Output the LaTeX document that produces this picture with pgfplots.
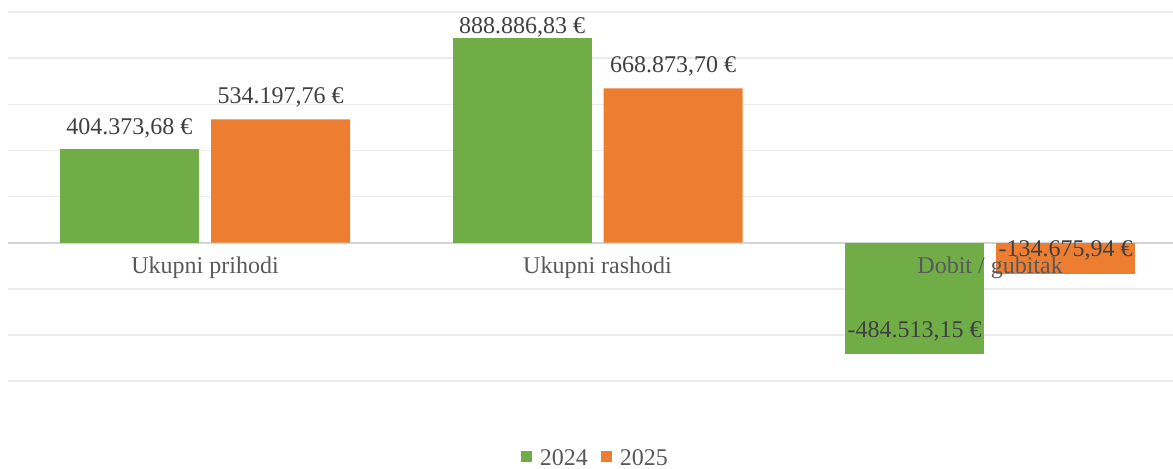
\documentclass[border=0pt]{standalone}
\usepackage{fontspec}
\setmainfont{Liberation Serif}
\usepackage{pgfplots}
\pgfplotsset{compat=1.18}
\definecolor{g24}{HTML}{70AD47}
\definecolor{o25}{HTML}{ED7D31}
\definecolor{lbl}{HTML}{404040}
\definecolor{cat}{HTML}{595959}
\definecolor{gridc}{HTML}{EBEBEB}
\definecolor{zeroc}{HTML}{D4D4D4}
\begin{document}
\begin{tikzpicture}[font=\fontsize{12}{14}\selectfont]
\begin{axis}[
  scale only axis, width=582.25pt, height=184.5pt,
  xmin=-0.5006, xmax=2.466, ymin=-600000, ymax=1000000,
  axis line style={draw=none},
  scaled y ticks=false,
  ytick={-600000,-400000,-200000,200000,400000,600000,800000,1000000},
  yticklabels={},
  ymajorgrids, major grid style={gridc, line width=0.75pt},
  extra y ticks={0}, extra y tick labels={},
  extra y tick style={ymajorgrids=true, major grid style={zeroc, line width=0.9pt}},
  major tick length=0pt, tick align=inside,
  xtick={0,1,2}, xticklabels={},
  point meta=explicit symbolic,
  legend style={draw=none, fill=none, at={(0.503,-0.2395)}, anchor=south,
    inner sep=0pt, nodes={inner sep=0pt, text=cat},
    /tikz/every odd column/.style={column sep=4pt},
    /tikz/every even column/.style={column sep=6.5pt}},
  legend columns=-1,
  legend image code/.code={\fill[#1, draw=none] (0pt,-1.3pt) rectangle (5.5pt,4.2pt);},
]
\coordinate (ll) at (rel axis cs:0,0);
\coordinate (ur) at (rel axis cs:1,1);
% 2024 positive
\addplot[ybar, bar width=0.354, bar shift=0pt, fill=g24, draw=none,
  nodes near coords,
  every node near coord/.style={text=lbl, anchor=base, inner sep=0pt, yshift=7.4pt}]
  coordinates {(-0.1924,404373.68) [404.373,68~€]};
\addlegendentry{2024}
% 2025 positive
\addplot[ybar, bar width=0.354, bar shift=0pt, fill=o25, draw=none,
  nodes near coords,
  every node near coord/.style={text=lbl, anchor=base, inner sep=0pt, yshift=8pt}]
  coordinates {(0.1924,534197.76) [534.197,76~€] (1.1924,668873.70) [668.873,70~€]};
\addlegendentry{2025}
\addplot[ybar, bar width=0.354, bar shift=0pt, fill=g24, draw=none, forget plot,
  nodes near coords,
  every node near coord/.style={text=lbl, anchor=base, inner sep=0pt, yshift=2.3pt}]
  coordinates {(0.8076,888886.83) [888.886,83~€]};
% 2024 negative
\addplot[ybar, bar width=0.354, bar shift=0pt, fill=g24, draw=none, forget plot,
  nodes near coords,
  every node near coord/.style={text=lbl, anchor=base, inner sep=0pt, yshift=8.5pt}]
  coordinates {(1.8076,-484513.15) [-484.513,15~€]};
% 2025 negative
\addplot[ybar, bar width=0.354, bar shift=0pt, fill=o25, draw=none, forget plot,
  nodes near coords,
  every node near coord/.style={text=lbl, anchor=base, inner sep=0pt, yshift=8.5pt}]
  coordinates {(2.1924,-134675.94) [-134.675,94~€]};
% category labels (drawn over the bars, as in the reference)
\node[text=cat, anchor=base, inner sep=0pt, yshift=-15.5pt] at (axis cs:0,0) {Ukupni prihodi};
\node[text=cat, anchor=base, inner sep=0pt, yshift=-15.5pt] at (axis cs:1,0) {Ukupni rashodi};
\node[text=cat, anchor=base, inner sep=0pt, yshift=-15.5pt] at (axis cs:2,0) {Dobit / gubitak};
\end{axis}
\pgfresetboundingbox
\path[use as bounding box] ([xshift=-4.25pt,yshift=-43.5pt]ll) rectangle ([yshift=6pt]ur);
\end{tikzpicture}
\end{document}
